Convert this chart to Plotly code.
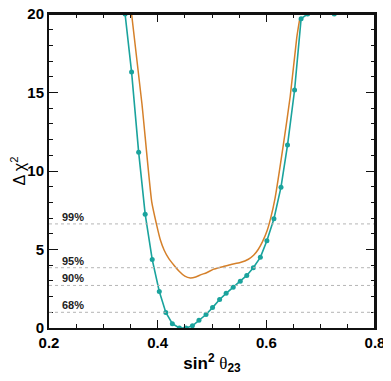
import plotly.graph_objects as go

# teal curve (with markers)
teal_x = [0.340, 0.352, 0.365, 0.377, 0.390, 0.403, 0.415, 0.427, 0.440, 0.452,
          0.464, 0.476, 0.489, 0.501, 0.514, 0.526, 0.539, 0.552, 0.564, 0.576,
          0.589, 0.601, 0.614, 0.627, 0.639, 0.652, 0.664, 0.676, 0.725]
teal_y = [20.0, 16.3, 11.2, 7.25, 4.36, 2.33, 0.99, 0.27, 0.0, 0.0,
          0.14, 0.5, 0.86, 1.3, 1.82, 2.21, 2.6, 2.98, 3.35, 3.84,
          4.5, 5.56, 6.96, 8.97, 11.65, 15.16, 19.7, 20.0, 20.0]

# orange curve (no markers)
orange_x = [0.352, 0.371, 0.389, 0.398, 0.405, 0.412, 0.420, 0.430, 0.440, 0.450,
            0.460, 0.470, 0.480, 0.490, 0.503, 0.521, 0.535, 0.552, 0.567, 0.577,
            0.585, 0.593, 0.601, 0.608, 0.616, 0.631, 0.644, 0.656, 0.662]
orange_y = [20.0, 14.3, 8.05, 6.58, 5.6, 4.95, 4.45, 4.0, 3.6, 3.3,
            3.19, 3.25, 3.4, 3.52, 3.75, 3.92, 4.05, 4.17, 4.38, 4.65,
            5.0, 5.5, 6.16, 7.0, 8.26, 11.6, 14.76, 18.5, 19.8]

cl_levels = [1.0, 2.71, 3.84, 6.63]
cl_labels = ["68%", "90%", "95%", "99%"]

TEAL = "#1aa39d"
ORANGE = "#d5802a"
INK = "#111111"

fig = go.Figure()

for lvl in cl_levels:
    fig.add_hline(y=lvl, line=dict(color="#b5b5b5", width=1, dash="dot"))

fig.add_trace(go.Scatter(
    x=orange_x, y=orange_y, mode="lines",
    line=dict(color=ORANGE, width=1.5, shape="spline", smoothing=0.5),
    showlegend=False
))

fig.add_trace(go.Scatter(
    x=teal_x, y=teal_y, mode="lines+markers",
    line=dict(color=TEAL, width=1.6),
    marker=dict(color=TEAL, size=5),
    showlegend=False
))

for lvl, lab in zip(cl_levels, cl_labels):
    fig.add_annotation(
        x=0.035, xref="paper", y=lvl, yref="y",
        text="<b>" + lab + "</b>", showarrow=False,
        xanchor="left", yanchor="bottom", yshift=-1,
        font=dict(size=11, color="#222")
    )

# frame around the plotting area
fig.add_shape(type="line", xref="paper", yref="paper", x0=0, x1=1, y0=1, y1=1,
              line=dict(color=INK, width=2, dash="solid"), layer="above")
fig.add_shape(type="line", xref="paper", yref="paper", x0=1, x1=1, y0=0, y1=1,
              line=dict(color=INK, width=2, dash="solid"), layer="above")

tick_font = dict(family="Liberation Sans, Arial, sans-serif", size=15,
                 color="black", weight="bold")

fig.update_layout(
    width=391, height=381,
    margin=dict(l=41, r=24, t=6, b=61, autoexpand=False),
    plot_bgcolor="rgba(0,0,0,0)", paper_bgcolor="white",
    font=dict(family="Liberation Sans, Arial, sans-serif"),
    xaxis=dict(
        range=[0.2, 0.8], dtick=0.2, tick0=0.2, tickformat=".1f",
        ticks="inside", ticklen=8, tickwidth=1.2, tickcolor=INK,
        minor=dict(dtick=0.05, ticks="inside", ticklen=4, tickwidth=1, tickcolor=INK),
        showline=True, linecolor=INK, linewidth=2, mirror="allticks",
        showgrid=False, zeroline=False,
        tickfont=tick_font, ticklabeloverflow="allow",
        title=dict(
            text="<b>sin<sup>2</sup></b> <span style='font-family:Liberation Serif, serif'>θ</span><b><sub>23</sub></b>",
            font=dict(size=17, color="black"), standoff=7
        )
    ),
    yaxis=dict(
        range=[0, 20], dtick=5,
        ticks="inside", ticklen=9, tickwidth=1.2, tickcolor=INK,
        minor=dict(dtick=1, ticks="inside", ticklen=4, tickwidth=1, tickcolor=INK),
        showline=True, linecolor=INK, linewidth=2, mirror="allticks",
        showgrid=False, zeroline=False,
        tickfont=tick_font, ticklabeloverflow="allow",
        title=dict(text="Δ χ<sup>2</sup>", font=dict(size=16, color="black"), standoff=6)
    )
)

fig.write_html("out.html")
